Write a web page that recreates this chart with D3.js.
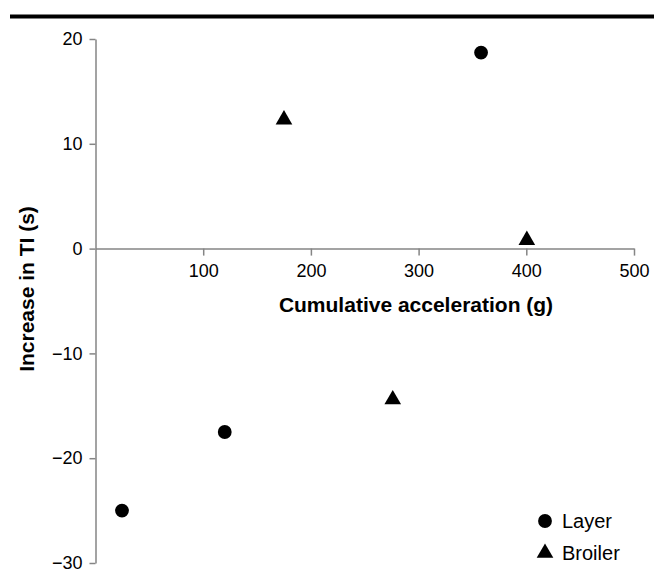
<!DOCTYPE html>
<html>
<head>
<meta charset="utf-8">
<script src="https://cdn.jsdelivr.net/npm/d3@7"></script>
<style>
  body { margin: 0; background: #fff; }
  svg { display: block; font-family: "Liberation Sans", Arial, sans-serif; }
</style>
</head>
<body>
<svg id="chart" width="654" height="576"></svg>
<script>
// data
const layerX = [24.6, 120, 358];
const layerY = [-25, -17.5, 18.7];
const broilerX = [175, 276, 400.5];
const broilerY = [12.3, -14.4, 0.8];
const xTicks = [100, 200, 300, 400, 500];
const yTicks = [20, 10, 0, -10, -20, -30];
const legendItems = ["Layer", "Broiler"];

const svg = d3.select('#chart');
const axisColor = '#858585';

const x = d3.scaleLinear().domain([0, 500]).range([95.5, 634]);
const y = d3.scaleLinear().domain([-30, 20]).range([563, 39]);

// top rule
svg.append('line')
  .attr('x1', 10).attr('x2', 654)
  .attr('y1', 16.5).attr('y2', 16.5)
  .attr('stroke', '#000').attr('stroke-width', 4);

// y axis
const yAxis = svg.append('g')
  .attr('transform', `translate(${x(0)},0)`)
  .call(d3.axisLeft(y).tickValues(yTicks).tickSize(6).tickSizeOuter(0).tickPadding(7));

// x axis on y = 0
const xAxis = svg.append('g')
  .attr('transform', `translate(0,${y(0)})`)
  .call(d3.axisBottom(x).tickValues(xTicks).tickSize(7).tickSizeOuter(0).tickPadding(9));

[yAxis, xAxis].forEach(g => {
  g.select('.domain').attr('stroke', axisColor).attr('stroke-width', 1.5);
  g.selectAll('.tick line').attr('stroke', axisColor).attr('stroke-width', 1.5);
  g.selectAll('.tick text')
    .attr('fill', '#000')
    .style('font-size', '18px')
    .style('font-family', '"Liberation Sans", Arial, sans-serif');
});

// axis titles
svg.append('text')
  .attr('x', 416).attr('y', 312)
  .attr('text-anchor', 'middle')
  .style('font-size', '21px').style('font-weight', 'bold')
  .text('Cumulative acceleration (g)');

svg.append('text')
  .attr('transform', 'translate(34,289) rotate(-90)')
  .attr('text-anchor', 'middle')
  .style('font-size', '21px').style('font-weight', 'bold')
  .text('Increase in TI (s)');

const circleSym = d3.symbol().type(d3.symbolCircle).size(150);
const triSym = d3.symbol().type(d3.symbolTriangle).size(120);

// layer points
svg.selectAll('.layer')
  .data(d3.zip(layerX, layerY))
  .join('path')
  .attr('class', 'layer')
  .attr('d', circleSym)
  .attr('transform', d => `translate(${x(d[0])},${y(d[1])})`)
  .attr('fill', '#000');

// broiler points
svg.selectAll('.broiler')
  .data(d3.zip(broilerX, broilerY))
  .join('path')
  .attr('class', 'broiler')
  .attr('d', triSym)
  .attr('transform', d => `translate(${x(d[0])},${y(d[1])})`)
  .attr('fill', '#000');

// legend
const legend = svg.append('g').attr('transform', 'translate(545,521)');
legendItems.forEach((name, i) => {
  const row = legend.append('g').attr('transform', `translate(0,${i * 32})`);
  row.append('path')
    .attr('d', i === 0 ? circleSym : triSym)
    .attr('fill', '#000');
  row.append('text')
    .attr('x', 17).attr('y', 7)
    .style('font-size', '20px')
    .text(name);
});
</script>
</body>
</html>
